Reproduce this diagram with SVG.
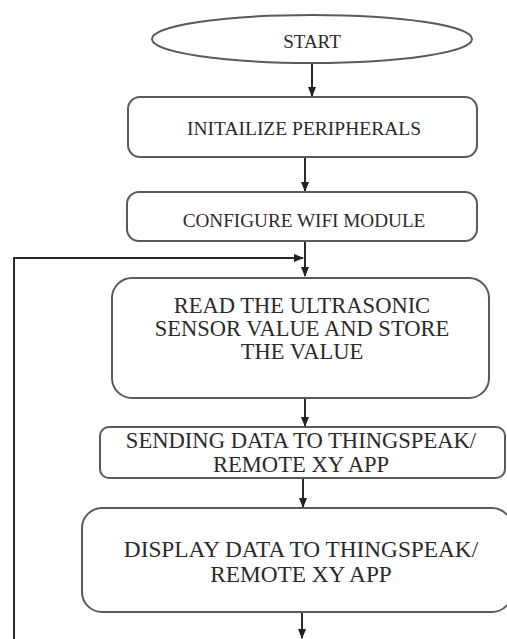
<svg xmlns="http://www.w3.org/2000/svg" width="507" height="639" viewBox="0 0 507 639">
<defs>
<marker id="ah" markerWidth="10" markerHeight="8" refX="9" refY="4" orient="auto" markerUnits="userSpaceOnUse">
<path d="M0,0 L10,4 L0,8 Z" fill="#222"/>
</marker>
<style>
.box{fill:#fff;stroke:#5a5a5a;stroke-width:2}
.t{font-family:'Liberation Serif','Times New Roman',serif;fill:#2a2a2a;text-anchor:middle}
.c{stroke:#2a2a2a;stroke-width:2;fill:none}
</style>
</defs>
<rect width="507" height="639" fill="#fff"/>
<g id="connectors">
<line class="c" x1="312" y1="63" x2="312" y2="96" marker-end="url(#ah)"/>
<line class="c" x1="305" y1="157" x2="305" y2="191" marker-end="url(#ah)"/>
<line class="c" x1="305" y1="241" x2="305" y2="276" marker-end="url(#ah)"/>
<line class="c" x1="305" y1="398" x2="305" y2="426" marker-end="url(#ah)"/>
<line class="c" x1="303" y1="478" x2="303" y2="507" marker-end="url(#ah)"/>
<line class="c" x1="302" y1="612" x2="302" y2="638" marker-end="url(#ah)"/>
<polyline class="c" points="14,639 14,258 303,258" stroke-width="2.5" marker-end="url(#ah)"/>
</g>
<g id="start">
<ellipse class="box" cx="312" cy="39" rx="160" ry="24"/>
<text class="t" font-family="Liberation Serif, serif" x="312" y="48" font-size="19">START</text>
</g>
<g id="init">
<rect class="box" x="128" y="97" width="349" height="60" rx="12"/>
<text class="t" font-family="Liberation Serif, serif" x="304" y="135" font-size="19.5">INITAILIZE PERIPHERALS</text>
</g>
<g id="config">
<rect class="box" x="127" y="192" width="350" height="49" rx="12"/>
<text class="t" font-family="Liberation Serif, serif" x="304" y="227" font-size="19.2">CONFIGURE WIFI MODULE</text>
</g>
<g id="read">
<rect class="box" x="112" y="278" width="377" height="120" rx="20"/>
<text class="t" font-family="Liberation Serif, serif" font-size="22.5"><tspan x="302" y="313">READ THE ULTRASONIC</tspan><tspan x="302" y="336">SENSOR VALUE AND STORE</tspan><tspan x="302" y="359">THE VALUE</tspan></text>
</g>
<g id="send">
<rect class="box" x="100" y="427" width="405" height="51" rx="9"/>
<text class="t" font-family="Liberation Serif, serif" font-size="22.6"><tspan x="301" y="448">SENDING DATA TO THINGSPEAK/</tspan><tspan x="301" y="472">REMOTE XY APP</tspan></text>
</g>
<g id="display">
<rect class="box" x="82" y="508" width="430" height="104" rx="20"/>
<text class="t" font-family="Liberation Serif, serif" font-size="23.3"><tspan x="301" y="557">DISPLAY DATA TO THINGSPEAK/</tspan><tspan x="301" y="582">REMOTE XY APP</tspan></text>
</g>
</svg>
